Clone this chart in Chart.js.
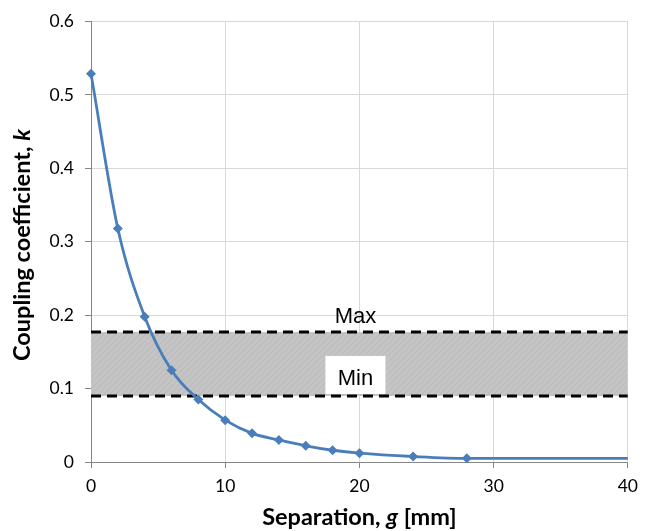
<!DOCTYPE html>
<html>
<head>
<meta charset="utf-8">
<script src="https://cdn.jsdelivr.net/npm/chart.js@4.4.1/dist/chart.umd.min.js"></script>
<style>
    html, body { margin: 0; padding: 0; background: #fff; }
    #wrap { width: 646px; height: 531px; }
</style>
</head>
<body>
<div id="wrap"><canvas id="couplingChart" width="646" height="531"></canvas></div>
<script>
// Data
const gapMm = [0, 2, 4, 6, 8, 10, 12, 14, 16, 18, 20, 24, 28, 40];
const couplingK = [0.529, 0.318, 0.198, 0.125, 0.085, 0.057, 0.039, 0.030, 0.022, 0.016, 0.012, 0.0075, 0.005, 0.005];
const bandX = [0, 40];
const maxLevel = 0.177;
const minLevel = 0.090;
const xTicks = [0, 10, 20, 30, 40];
const yTicks = [0, 0.1, 0.2, 0.3, 0.4, 0.5, 0.6];

const curvePoints = gapMm.map((g, i) => ({ x: g, y: couplingK[i] }));
const maxLine = bandX.map(x => ({ x: x, y: maxLevel }));
const minLine = bandX.map(x => ({ x: x, y: minLevel }));

// Hatched grey fill for the band
function makeHatch() {
    const c = document.createElement('canvas');
    c.width = 6;
    c.height = 6;
    const p = c.getContext('2d');
    p.fillStyle = '#c4c4c4';
    p.fillRect(0, 0, 6, 6);
    p.strokeStyle = '#b9b9b9';
    p.lineWidth = 1;
    p.beginPath();
    p.moveTo(0, 6); p.lineTo(6, 0);
    p.moveTo(-1, 1); p.lineTo(1, -1);
    p.moveTo(5, 7); p.lineTo(7, 5);
    p.stroke();
    return p.createPattern(c, 'repeat');
}

// Draws a row of text pieces, some italic
function drawPieces(ctx, pieces, size) {
    let total = 0;
    pieces.forEach(pc => {
        ctx.font = (pc.italic ? 'italic ' : '') + 'bold ' + size + 'px Lato';
        pc.w = ctx.measureText(pc.t).width;
        total += pc.w;
    });
    let x = -total / 2;
    pieces.forEach(pc => {
        ctx.font = (pc.italic ? 'italic ' : '') + 'bold ' + size + 'px Lato';
        ctx.fillText(pc.t, x, 0);
        x += pc.w;
    });
}

const annotations = {
    id: 'annotations',
    afterDatasetsDraw(chart) {
        const ctx = chart.ctx;
        const xs = chart.scales.x;
        const ys = chart.scales.y;
        const cx = xs.getPixelForValue(20) - 4;
        const yMax = ys.getPixelForValue(maxLevel);
        const yMin = ys.getPixelForValue(minLevel);

        ctx.save();
        // Min label box
        ctx.fillStyle = '#fff';
        ctx.fillRect(cx - 30, yMin - 40, 60, 38);
        ctx.fillStyle = '#000';
        ctx.font = '22px "Liberation Sans"';
        ctx.textAlign = 'center';
        ctx.textBaseline = 'alphabetic';
        ctx.fillText('Max', cx, yMax - 9);
        ctx.fillText('Min', cx, yMin - 11);
        ctx.restore();
    },
    afterDraw(chart) {
        const ctx = chart.ctx;
        const area = chart.chartArea;
        ctx.save();
        ctx.fillStyle = '#000';
        ctx.textBaseline = 'alphabetic';
        // x axis title
        ctx.translate((area.left + area.right) / 2, 525);
        drawPieces(ctx, [{ t: 'Separation, ' }, { t: 'g', italic: true }, { t: ' [mm]' }], 23.5);
        ctx.restore();

        ctx.save();
        ctx.fillStyle = '#000';
        ctx.translate(30, 245);
        ctx.rotate(-Math.PI / 2);
        drawPieces(ctx, [{ t: 'Coupling coefficient, ' }, { t: 'k', italic: true }], 23.5);
        ctx.restore();
    }
};

const hatch = makeHatch();

new Chart(document.getElementById('couplingChart').getContext('2d'), {
    type: 'line',
    data: {
        datasets: [{
            label: 'k',
            data: curvePoints,
            borderColor: '#4a7ebb',
            backgroundColor: '#4a7ebb',
            borderWidth: 2.8,
            pointStyle: 'rectRot',
            pointRadius: ctx => (ctx.dataIndex === gapMm.length - 1 ? 0 : 5),
            pointBorderWidth: 0,
            cubicInterpolationMode: 'monotone',
            fill: false,
            clip: false,
            order: 0
        }, {
            label: 'Max',
            data: maxLine,
            borderColor: '#000',
            borderWidth: 3,
            borderDash: [10, 6],
            pointRadius: 0,
            backgroundColor: hatch,
            fill: '+1',
            order: 2
        }, {
            label: 'Min',
            data: minLine,
            borderColor: '#000',
            borderWidth: 3,
            borderDash: [10, 6],
            pointRadius: 0,
            fill: false,
            order: 1
        }]
    },
    options: {
        responsive: false,
        animation: false,
        layout: { padding: { top: 17, right: 18, left: 0, bottom: 0 } },
        plugins: {
            legend: { display: false },
            tooltip: { enabled: false }
        },
        scales: {
            x: {
                type: 'linear',
                min: 0,
                max: 40,
                afterFit: s => { s.height = 69; },
                afterBuildTicks: s => { s.ticks = xTicks.map(v => ({ value: v })); },
                grid: { color: '#d9d9d9', tickColor: '#868686', tickLength: 6, lineWidth: 1 },
                border: { color: '#868686', width: 1 },
                ticks: {
                    color: '#000',
                    padding: 8,
                    font: { family: 'Lato', size: 17.5 },
                    maxRotation: 0
                }
            },
            y: {
                min: 0,
                max: 0.6,
                afterFit: s => { s.width = 91; },
                afterBuildTicks: s => { s.ticks = yTicks.map(v => ({ value: v })); },
                grid: { color: '#d9d9d9', tickColor: '#868686', tickLength: 6, lineWidth: 1 },
                border: { color: '#868686', width: 1 },
                ticks: {
                    color: '#000',
                    padding: 11,
                    font: { family: 'Lato', size: 17.5 },
                    callback: v => String(Math.round(v * 10) / 10)
                }
            }
        }
    },
    plugins: [annotations]
});
</script>
</body>
</html>
